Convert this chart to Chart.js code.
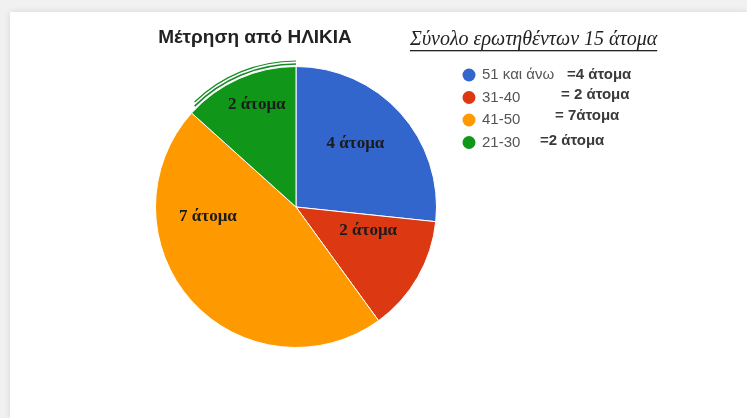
<!DOCTYPE html>
<html>
<head>
<meta charset="utf-8">
<style>
  body { margin:0; width:747px; height:418px; background:#f1f1f1; overflow:hidden; }
  #panel { position:absolute; left:10px; top:12px; width:737px; height:406px; background:#fff;
           box-shadow:0 0 6px rgba(0,0,0,0.12); }
  #box { position:absolute; left:0; top:0; width:747px; height:418px; }
</style>
</head>
<body>
<div id="panel"></div>
<div id="box"><canvas id="myChart" width="747" height="418"></canvas></div>

<script src="https://cdn.jsdelivr.net/npm/chart.js"></script>

<script>
  const categories = ['51 και άνω', '31-40', '41-50', '21-30'];
  const counts = [4, 2, 7, 2];
  const legendNotes = ['=4 άτομα', '= 2 άτομα', '= 7άτομα', '=2 άτομα'];
  const titleText = 'Μέτρηση από ΗΛΙΚΙΑ';
  const subtitleText = 'Σύνολο ερωτηθέντων 15 άτομα';

  const colors = ['#3366cc', '#dc3912', '#ff9900', '#109618'];
  // where the slice texts sit: [angle from top in degrees, fraction of radius]
  const labelSpots = [[43, 0.62], [108, 0.54], [264, 0.63], [339, 0.78]];
  // x of the "= n άτομα" notes in the legend, and their lift
  const noteX = [567, 561, 555, 540];
  const noteLift = [0, 3, 4, 2];

  const extras = {
    id: 'extras',
    afterDatasetsDraw(chart) {
      const ctx = chart.ctx;
      const arcs = chart.getDatasetMeta(0).data;
      const cx = arcs[0].x, cy = arcs[0].y, R = arcs[0].outerRadius;
      ctx.save();

      // double outline over the green slice
      const g = arcs[3];
      ctx.strokeStyle = '#168a25';
      ctx.lineWidth = 1.6;
      ctx.beginPath(); ctx.arc(cx, cy, R + 2.5, g.startAngle + 0.05, g.endAngle); ctx.stroke();
      ctx.lineWidth = 1.2;
      ctx.beginPath(); ctx.arc(cx, cy, R + 5.5, g.startAngle + 0.07, g.endAngle); ctx.stroke();

      // slice texts
      ctx.font = 'bold 17px "Liberation Serif"';
      ctx.fillStyle = '#1b1b1b';
      ctx.textAlign = 'center';
      ctx.textBaseline = 'middle';
      counts.forEach((c, i) => {
        const a = labelSpots[i][0] * Math.PI / 180;
        const r = labelSpots[i][1] * R;
        ctx.fillText(c + ' άτομα', cx + Math.sin(a) * r, cy - Math.cos(a) * r);
      });

      // titles
      ctx.font = 'bold 19px "Liberation Sans"';
      ctx.fillStyle = '#222';
      ctx.textAlign = 'center';
      ctx.fillText(titleText, 255, 38);

      ctx.font = 'italic 20px "Liberation Serif"';
      ctx.textAlign = 'left';
      ctx.fillText(subtitleText, 410, 40);
      const w = ctx.measureText(subtitleText).width;
      ctx.fillRect(410, 50, w, 1.3);

      // legend
      categories.forEach((name, i) => {
        const y = 75 + i * 22.5;
        ctx.fillStyle = colors[i];
        ctx.beginPath(); ctx.arc(469, y, 6.5, 0, Math.PI * 2); ctx.fill();
        ctx.font = '15px "Liberation Sans"';
        ctx.fillStyle = '#555';
        ctx.textAlign = 'left';
        ctx.fillText(name, 482, y);
        ctx.font = 'bold 15px "Liberation Sans"';
        ctx.fillStyle = '#3a3a3a';
        ctx.fillText(legendNotes[i], noteX[i], y - noteLift[i]);
      });
      ctx.restore();
    }
  };

  const data = {
    labels: categories,
    datasets: [{
      data: counts,
      backgroundColor: colors,
      borderColor: '#ffffff',
      borderWidth: 1
    }]
  };

  const config = {
    type: 'pie',
    data: data,
    options: {
      responsive: false,
      animation: false,
      layout: { padding: { left: 155, right: 310, top: 66, bottom: 70 } },
      plugins: {
        legend: { display: false },
        tooltip: { enabled: false }
      }
    },
    plugins: [extras]
  };

  const myChart = new Chart(document.getElementById('myChart'), config);
</script>
</body>
</html>
